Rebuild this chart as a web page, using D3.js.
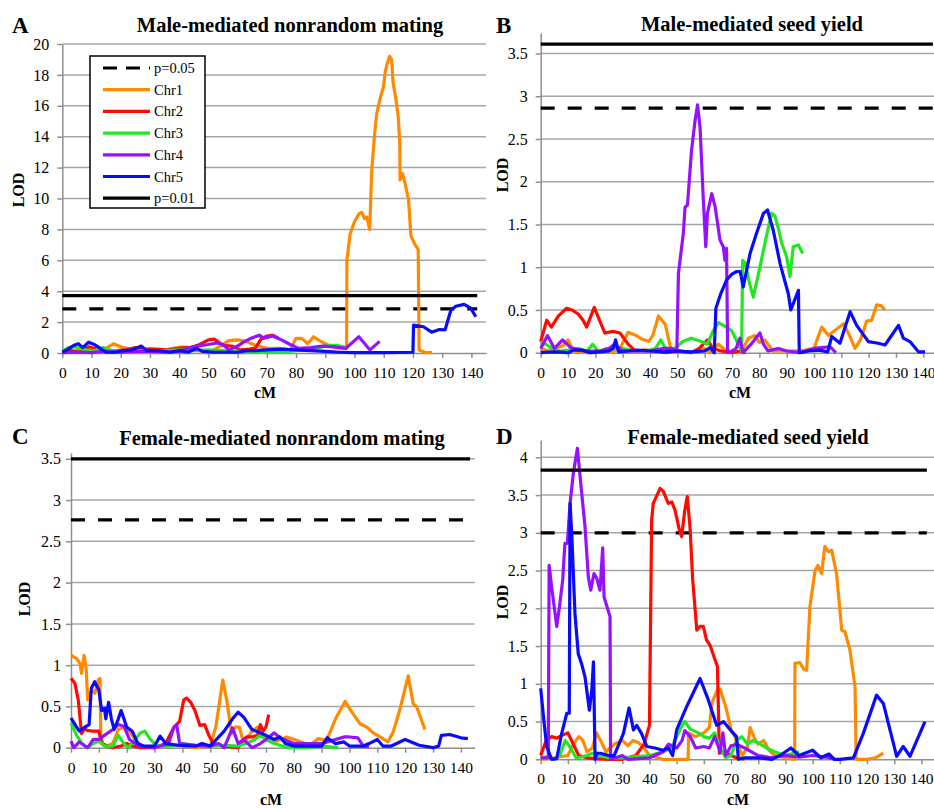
<!DOCTYPE html>
<html>
<head>
<meta charset="utf-8">
<script src="https://cdn.jsdelivr.net/npm/d3@7"></script>
<style>
  body { margin: 0; background: #fff; }
  svg text { font-family: "Liberation Serif", "Times New Roman", serif; fill: #000; }
</style>
</head>
<body>
<svg id="chart" width="934" height="809"></svg>
<script>
// ---- data (cM, LOD) ----
const chrNames = ["Chr1", "Chr2", "Chr3", "Chr4", "Chr5"];
const chrColors = ["#ff8a00", "#ff0a00", "#22e622", "#9412ff", "#0a0aff"];
const panelLetters = ["A", "B", "C", "D"];
const panelTitles = ["Male-mediated nonrandom mating", "Male-mediated seed yield",
  "Female-mediated nonrandom mating", "Female-mediated seed yield"];
const xTicks = [0, 10, 20, 30, 40, 50, 60, 70, 80, 90, 100, 110, 120, 130, 140];
const p05 = [2.85, 2.86, 2.76, 3.0];
const p01 = [3.71, 3.61, 3.5, 3.83];
const thrEnd = [142, 143.5, 143.3, 142];

const aChr1 = [[0,0.05],[3,0.1],[6,0.15],[9,0.3],[12,0.2],[15,0.3],[17.5,0.6],[20,0.4],[23,0.25],[26,0.2],[30,0.3],[34,0.15],[38,0.3],[41,0.4],[45,0.35],[48,0.05],[51,0.1],[54,0.45],[57,0.8],[60,0.85],[63,0.75],[66,0.5],[70,0.3],[74,0.3],[78,0.2],[80,0.95],[82,0.95],[84,0.6],[86,1.05],[88,0.8],[91,0.5],[94,0.35],[97.3,0.3],[97.4,6.0],[98.5,7.7],[100,8.5],[101.5,9.0],[102.5,9.1],[103.4,8.7],[104.2,8.8],[105.2,8.0],[105.9,11.8],[106.8,14.0],[107.6,15.5],[108.8,16.5],[109.9,17.2],[110.5,18.2],[111.3,18.8],[112,19.2],[112.7,19.0],[113.2,17.5],[114.2,16.4],[115,15.2],[115.5,13.5],[115.6,11.2],[116.5,11.6],[117.5,10.8],[118.5,9.9],[119.3,7.6],[120.5,7.1],[121.8,6.7],[122.1,0.2],[124,0.05],[126.5,0.02]];
const aChr2 = [[0,0.05],[3,0.15],[6,0.05],[9,0.4],[11,0.3],[14,0.1],[18,0.15],[22,0.2],[25,0.35],[28,0.2],[32,0.25],[36,0.2],[40,0.3],[44,0.35],[47,0.55],[50,0.85],[52,0.9],[55,0.5],[58,0.45],[61,0.2],[64,0.25],[66,0.3],[68,0.9],[70,1.1],[72,1.15],[74,0.95]];
const aChr3 = [[0,0.1],[2,0.35],[4,0.4],[6,0.3],[8,0.2],[11,0.15],[14,0.35],[16,0.2],[20,0.1],[25,0.15],[30,0.1],[35,0.15],[40,0.2],[45,0.15],[50,0.2],[55,0.15],[60,0.1],[65,0.05],[70,0.05],[75,0.05],[80,0.15],[84,0.2],[88,0.35],[91,0.5],[94,0.5],[97,0.35]];
const aChr4 = [[0,0.02],[5,0.05],[10,0.02],[15,0.1],[20,0.05],[25,0.1],[30,0.1],[35,0.05],[40,0.1],[43,0.3],[46,0.45],[50,0.55],[53,0.65],[55,0.55],[57,0.2],[60,0.45],[62,0.7],[64,0.9],[66,1.05],[67.5,1.15],[69,0.95],[72,1.1],[75,0.85],[78,0.55],[81,0.3],[85,0.35],[89,0.45],[93,0.4],[97,0.3],[101.5,1.05],[105.3,0.2],[108.6,0.75]];
const aChr5 = [[0,0.05],[2,0.25],[4,0.5],[5.5,0.6],[7,0.35],[9,0.7],[11,0.55],[13,0.3],[15,0.05],[18,0.05],[21,0.15],[24,0.2],[27,0.45],[29,0.15],[33,0.15],[37,0.05],[40,0.15],[43,0.05],[46,0.3],[48,0.1],[52,0.05],[60,0.05],[63,0.15],[66,0.15],[70,0.2],[75,0.25],[80,0.2],[85,0.15],[90,0.1],[95,0.05],[100,0.02],[110,0.02],[120,0.05],[120.2,1.8],[123.6,1.7],[126.4,1.35],[129,1.52],[131,1.5],[133,2.78],[134.7,3.03],[137.5,3.15],[139.8,2.9],[141.5,2.35]];

const bChr1 = [[0,0.05],[3,0.02],[5,0.05],[8,0.08],[10,0.15],[12,0.02],[16,0.0],[20,0.0],[24,0.05],[26,0.0],[29,0.05],[32,0.24],[35,0.2],[37,0.16],[39.5,0.13],[41,0.2],[43.1,0.43],[45.6,0.33],[47.5,0.06],[50,0.03],[55,0.0],[60,0.05],[62,0.0],[65,0.1],[68,0.02],[72,0.0],[74,0.05],[76,0.17],[78.4,0.2],[80,0.12],[82,0.15],[85,0.02],[90,0.02],[95,0.02],[100,0.05],[102.8,0.3],[105.3,0.2],[108,0.27],[110.8,0.34],[113,0.2],[115,0.05],[117,0.15],[119.3,0.37],[121.1,0.38],[122.9,0.56],[124.5,0.55],[126,0.5]];
const bChr2 = [[0,0.13],[2.2,0.38],[3.9,0.3],[6.5,0.43],[9.5,0.52],[11.5,0.5],[13.8,0.45],[15.5,0.38],[16.8,0.3],[19.6,0.53],[21.5,0.38],[23.5,0.23],[26.5,0.25],[29,0.23],[32,0.1],[34.5,0.02],[38,0.03],[42,0.02],[46,0.0],[50,0.02],[55,0.0],[58,0.05],[61,0.15],[63,0.05],[66,0.02],[70,0.0],[73,0.02],[75,0.0]];
const bChr3 = [[0,0.12],[2,0.1],[4,0.05],[7,0.02],[10,0.03],[14,0.05],[17,0.02],[19,0.1],[21,0.02],[26,0.05],[30,0.05],[34,0.02],[40,0.03],[42,0.05],[44,0.15],[46,0.03],[49,0.05],[52,0.13],[55,0.17],[58,0.14],[61,0.1],[63,0.25],[65,0.35],[68,0.3],[70,0.25],[72,0.12],[73.5,0.02],[73.9,1.08],[74.8,1.05],[76.5,0.8],[77.8,0.65],[80.2,1.0],[82.5,1.35],[84.5,1.63],[85.7,1.6],[87,1.45],[88.2,1.28],[90,1.12],[91.2,0.89],[92.4,1.24],[94.3,1.26],[95.9,1.16]];
const bChr4 = [[0,0.05],[2.5,0.2],[5,0.05],[8,0.15],[11,0.06],[14,0.03],[18,0.02],[22,0.02],[25,0.05],[27,0.1],[30,0.02],[35,0.02],[40,0.02],[45,0.05],[48,0.05],[49.8,0.02],[50.4,0.93],[52.2,1.4],[52.8,1.7],[53.7,1.73],[55.2,2.37],[56.5,2.72],[57.4,2.9],[58.3,2.64],[59.5,1.79],[60.4,1.24],[61,1.63],[62.6,1.86],[63.8,1.71],[65.6,1.32],[66.8,1.24],[67.4,1.08],[68,1.22],[68.4,0.0],[70,0.02],[71.5,0.05],[72.9,0.17],[74,0.0],[77,0.1],[80.2,0.23],[81.5,0.1],[83.2,0.02],[87,0.05],[90,0.02],[95,0.0],[98,0.03],[100,0.05],[105.8,0.07],[108,0.0]];
const bChr5 = [[0,0.0],[5,0.01],[10,0.0],[12,0.03],[15,0.03],[18,0.0],[22,0.01],[25,0.02],[26.5,0.05],[27.4,0.15],[28.5,0.01],[32,0.02],[35,0.03],[40,0.02],[45,0.01],[50,0.02],[55,0.01],[60,0.02],[62,0.06],[63.5,0.0],[64.1,0.52],[66,0.7],[68,0.85],[70,0.92],[71.7,0.95],[73,0.95],[74.1,0.77],[76.6,1.16],[79,1.4],[81.5,1.63],[83,1.67],[85.1,1.43],[87.6,1.04],[90.6,0.69],[91.5,0.5],[94.3,0.73],[94.6,0.0],[98,0.02],[102,0.03],[105,0.01],[106.5,0.19],[109.5,0.11],[113.2,0.48],[115.6,0.32],[119.9,0.13],[123.5,0.11],[126,0.09],[130.9,0.32],[132.7,0.17],[135.1,0.13],[138.2,0.01],[140.6,0.01]];

const cChr1 = [[0,1.12],[2,1.08],[3.2,1.02],[3.8,0.9],[4.7,1.12],[5.4,0.98],[6,0.58],[7.4,0.7],[8.6,0.66],[9.8,0.82],[10.4,0.84],[10.7,0.17],[11.4,0.05],[13,0.02],[15,0.05],[17,0.22],[19,0.25],[21,0.2],[23,0.1],[25,0.02],[30,0.0],[35,0.05],[40,0.02],[45,0.0],[50,0.02],[52,0.25],[54.5,0.82],[55.9,0.58],[57.7,0.17],[59,0.25],[60.5,0.25],[62,0.05],[65,0.2],[67,0.25],[70,0.1],[74,0.08],[77.4,0.13],[81,0.09],[85.8,0.03],[88.8,0.11],[91.8,0.09],[95,0.35],[98.4,0.56],[100.5,0.45],[103.8,0.29],[106.2,0.25],[108.5,0.18],[111,0.13],[113.8,0.07],[115.7,0.19],[118,0.45],[121.1,0.87],[122.9,0.53],[124.1,0.5],[127.1,0.22]];
const cChr2 = [[0,0.84],[1.4,0.78],[2.6,0.58],[3.8,0.17],[5,0.23],[5.9,0.21],[7.5,0.2],[10,0.2],[11,0.05],[13,0.02],[15,0.0],[18,0.02],[20,0.05],[22,0.02],[25,0.0],[30,0.0],[34,0.05],[37,0.25],[39,0.32],[40.5,0.58],[41.5,0.6],[43,0.55],[44.5,0.45],[46.3,0.27],[48,0.28],[49.5,0.15],[51,0.05],[55,0.02],[60,0.0],[62,0.1],[63,0.13],[65,0.13],[67,0.15],[68,0.28],[69,0.2],[70,0.25],[71,0.4]];
const cChr3 = [[0,0.3],[2,0.15],[4,0.05],[6,0.0],[8,0.05],[10,0.08],[12,0.02],[15,0.02],[17,0.15],[19,0.05],[20.5,0.0],[22.5,0.08],[25,0.18],[26.5,0.2],[28.5,0.1],[30.5,0.03],[33,0.02],[36,0.02],[40,0.05],[45,0.02],[50,0.02],[55,0.03],[60,0.02],[63,0.05],[66,0.1],[68,0.15],[70,0.1],[73,0.05],[78,0.0],[85,0.0],[90,0.02],[96,0.0]];
const cChr4 = [[0,0.08],[1,0.0],[3,0.07],[5,0.02],[6,0.0],[8,0.1],[10,0.1],[12,0.15],[15,0.22],[17,0.28],[19,0.26],[21,0.1],[23,0.05],[25,0.02],[30,0.0],[35,0.05],[37,0.25],[38,0.27],[39,0.05],[45,0.03],[50,0.02],[53,0.05],[55,0.0],[58,0.24],[60,0.05],[62,0.1],[65,0.0],[68,0.05],[70,0.1],[73,0.18],[75,0.12],[80,0.05],[85,0.05],[90,0.05],[95,0.1],[98,0.13],[100,0.13],[103,0.12],[105,0.02],[107,0.01]];
const cChr5 = [[0,0.36],[2,0.25],[3,0.2],[5,0.25],[6.5,0.28],[7.3,0.72],[8.5,0.8],[10,0.7],[11,0.45],[12,0.48],[12.5,0.35],[13.5,0.55],[14.5,0.35],[15.5,0.22],[17,0.35],[18,0.45],[19,0.35],[20,0.25],[22,0.2],[24,0.05],[26,0.02],[30,0.02],[32,0.14],[34,0.05],[38,0.03],[45,0.02],[47,0.05],[50,0.02],[55,0.2],[58,0.35],[60,0.43],[62,0.37],[65,0.22],[70,0.15],[73,0.1],[75,0.13],[77,0.05],[80,0.02],[85,0.02],[90,0.02],[92,0.12],[95,0.05],[98,0.07],[100,0.02],[105,0.02],[107,0.05],[110,0.1],[112,0.02],[115,0.02],[120,0.1],[125,0.03],[130,0.0],[132,0.02],[133,0.15],[136,0.16],[140,0.12],[142.5,0.11]];

const dChr1 = [[0,0.0],[5,0.02],[10,0.05],[12,0.2],[14,0.3],[15.5,0.25],[17,0.1],[19,0.15],[20.5,0.35],[22,0.25],[24,0.1],[27,0.2],[30,0.25],[32,0.18],[34,0.25],[36,0.22],[38,0.15],[40,0.05],[45,0.0],[50,0.0],[54.2,0.0],[54.4,0.35],[57,0.3],[60,0.35],[62,0.42],[63,0.75],[65,0.92],[66,0.93],[68,0.7],[70,0.4],[72,0.25],[74,0.05],[76,0.15],[77,0.42],[79,0.25],[80,0.2],[82,0.25],[84,0.12],[86,0.05],[90,0.02],[93.4,0.0],[93.5,1.27],[95.3,1.28],[96.6,1.2],[97.8,1.18],[99,2.02],[100.9,2.5],[102,2.57],[103.3,2.46],[104.5,2.82],[105.8,2.75],[107,2.77],[108.8,2.46],[110.7,1.71],[111.9,1.69],[113.7,1.45],[115.6,0.96],[116,0.0],[120,0.0],[123,0.02],[126,0.08]];
const dChr2 = [[0,0.05],[2,0.25],[4,0.3],[6,0.28],[8,0.32],[10,0.35],[12,0.2],[14,0.05],[17,0.02],[20,0.01],[25,0.0],[30,0.0],[35,0.05],[38,0.2],[40,0.45],[40.8,3.17],[41.4,3.39],[43.9,3.59],[45.1,3.55],[46.9,3.39],[48.2,3.41],[49.4,3.3],[51,3.04],[51.8,2.95],[53,3.3],[53.9,3.48],[54.9,3.08],[55.9,2.38],[57.4,1.71],[58.6,1.76],[59.8,1.76],[61,1.58],[62.3,1.51],[64.1,1.32],[65,1.23],[65.7,0.08],[68,0.1],[70,0.05],[72,0.02],[75,0.0]];
const dChr3 = [[0,0.02],[2,0.03],[5,0.0],[7,0.05],[9,0.25],[11,0.15],[13,0.02],[15,0.03],[17,0.05],[19,0.08],[21,0.05],[25,0.02],[30,0.02],[40,0.05],[45,0.1],[48,0.15],[50,0.3],[52,0.45],[53,0.5],[55,0.4],[58,0.35],[60,0.3],[62,0.28],[64,0.35],[66,0.15],[68,0.02],[70,0.05],[72,0.25],[74,0.3],[76,0.2],[78,0.25],[80,0.22],[83,0.15],[86,0.1],[90,0.05],[93,0.08],[95,0.1]];
const dChr4 = [[0,0.02],[2.8,0.02],[3.1,2.57],[4,2.29],[5.9,1.76],[6.9,2.02],[8.1,2.38],[8.9,2.86],[9.8,2.86],[10.8,3.39],[12,3.79],[13.5,4.12],[14.5,3.74],[16.3,3.08],[17.5,2.42],[18.4,2.24],[19.6,2.46],[20.6,2.4],[21.8,2.24],[22.8,2.8],[23.3,2.15],[24.9,1.96],[25.5,1.89],[25.7,0.0],[30,0.05],[32,0.0],[40,0.02],[45,0.1],[47,0.2],[50,0.15],[52,0.25],[53,0.38],[55,0.3],[57,0.15],[60,0.17],[62,0.15],[64,0.3],[66,0.1],[67,0.35],[68,0.05],[70,0.18],[72,0.2],[75,0.15],[80,0.05],[85,0.02],[90,0.05],[95,0.03],[100,0.05],[105,0.03],[108,0.0]];
const dChr5 = [[0,0.94],[1,0.57],[2.2,0.17],[4,0.0],[5.9,0.01],[7.7,0.34],[9.6,0.61],[10.5,0.61],[10.8,3.39],[11.4,3.0],[12.6,1.93],[13.8,1.4],[15,1.27],[16.3,1.09],[17.9,0.65],[18.8,0.92],[19.4,1.29],[20,0.0],[20.6,0.08],[22,0.08],[25,0.05],[27,0.05],[30.4,0.34],[32.5,0.68],[34.1,0.39],[35.3,0.45],[37.1,0.34],[39,0.17],[42,0.15],[45,0.12],[47,0.15],[48.5,0.05],[50,0.39],[53.7,0.7],[58.6,1.07],[61.6,0.79],[64.7,0.45],[67.2,0.5],[70.2,0.37],[72,0.3],[72.7,0.0],[75,0.02],[80,0.02],[85,0.0],[88,0.05],[92,0.15],[95,0.05],[100,0.12],[103,0.02],[106,0.07],[108,0.0],[110,0.0],[115,0.02],[118.6,0.34],[123.5,0.85],[126,0.74],[130.9,0.04],[133.3,0.17],[135.8,0.04],[141.3,0.5]];

const seriesByPanel = [
  [aChr1, aChr2, aChr3, aChr4, aChr5],
  [bChr1, bChr2, bChr3, bChr4, bChr5],
  [cChr1, cChr2, cChr3, cChr4, cChr5],
  [dChr1, dChr2, dChr3, dChr4, dChr5]
];

// ---- layout ----
const panels = [
  { left: 62.3, right: 486, top: 44, bottom: 353, yMax: 20, yStep: 2, yTickMax: 20,
    letter: [12, 33], title: [290, 32], lod: [18, 190], cm: [265, 398], yPad: 13, legend: true },
  { left: 540.7, right: 937, top: 33, bottom: 352.7, yMax: 3.74, yStep: 0.5, yTickMax: 3.5,
    letter: [496, 33], title: [752, 31], lod: [502, 175], cm: [740, 398], yPad: 13 },
  { left: 71, right: 474.8, top: 453, bottom: 747.7, yMax: 3.57, yStep: 0.5, yTickMax: 3.5,
    letter: [12, 444], title: [282, 445], lod: [24, 599], cm: [271, 805], yPad: 10 },
  { left: 540.7, right: 935, top: 440, bottom: 759.3, yMax: 4.23, yStep: 0.5, yTickMax: 4,
    letter: [496, 444], title: [748, 444], lod: [502, 602], cm: [738, 805], yPad: 13 }
];

const gridColor = "#a6a6a6";
const axisColor = "#8f8f8f";
const svg = d3.select("#chart");

function styleAxis(sel, size) {
  sel.attr("font-family", null).attr("font-size", null);
  sel.select(".domain").attr("stroke", axisColor).attr("stroke-width", 1.5);
  sel.selectAll(".tick line").attr("stroke", axisColor).attr("stroke-width", 1.5);
  sel.selectAll(".tick text").style("font-size", size + "px");
}

function drawPanel(p, i) {
  const g = svg.append("g").attr("class", "panel-" + panelLetters[i]);
  const x = d3.scaleLinear().domain([0, 145]).range([p.left, p.right]);
  const y = d3.scaleLinear().domain([0, p.yMax]).range([p.bottom, p.top]);
  const yTicks = d3.range(0, p.yTickMax + p.yStep / 2, p.yStep);

  g.append("g").selectAll("line")
    .data(yTicks.filter(d => d > 0))
    .join("line")
    .attr("x1", x(0)).attr("x2", x(145))
    .attr("y1", d => y(d)).attr("y2", d => y(d))
    .attr("stroke", gridColor).attr("stroke-width", 1.5);

  g.append("g")
    .attr("transform", `translate(0,${y(0)})`)
    .call(d3.axisBottom(x).tickValues(xTicks).tickSize(5).tickSizeOuter(0).tickPadding(9).tickFormat(d3.format("d")))
    .call(styleAxis, 15.5);

  g.append("g")
    .attr("transform", `translate(${x(0)},0)`)
    .call(d3.axisLeft(y).tickValues(yTicks).tickSize(5).tickSizeOuter(0).tickPadding(p.yPad - 5).tickFormat(d3.format("~g")))
    .call(styleAxis, 16);

  const line = d3.line().x(d => x(d[0])).y(d => y(d[1]));

  // p=0.05 threshold
  g.append("path")
    .attr("d", line([[0, p05[i]], [thrEnd[i], p05[i]]]))
    .attr("stroke", "#000").attr("stroke-width", 3.2)
    .attr("stroke-dasharray", "14,13").attr("fill", "none");

  seriesByPanel[i].forEach((s, k) => {
    g.append("path")
      .attr("d", line(s))
      .attr("fill", "none")
      .attr("stroke", chrColors[k])
      .attr("stroke-width", 3.2)
      .attr("stroke-linejoin", "round");
  });

  // p=0.01 threshold
  g.append("path")
    .attr("d", line([[0, p01[i]], [thrEnd[i], p01[i]]]))
    .attr("stroke", "#000").attr("stroke-width", 3.2).attr("fill", "none");

  g.append("text").attr("x", p.letter[0]).attr("y", p.letter[1])
    .attr("font-size", 23).attr("font-weight", "bold").text(panelLetters[i]);
  g.append("text").attr("x", p.title[0]).attr("y", p.title[1])
    .attr("text-anchor", "middle").attr("font-size", 20.5).attr("font-weight", "bold")
    .text(panelTitles[i]);
  g.append("text")
    .attr("transform", `translate(${p.lod[0]},${p.lod[1]}) rotate(-90)`)
    .attr("text-anchor", "middle").attr("dy", "0.35em")
    .attr("font-size", 16).attr("font-weight", "bold").text("LOD");
  g.append("text").attr("x", p.cm[0]).attr("y", p.cm[1])
    .attr("text-anchor", "middle").attr("font-size", 16).attr("font-weight", "bold").text("cM");

  if (p.legend) drawLegend(g);
}

function drawLegend(g) {
  const items = [
    { label: "p=0.05", color: "#000", dash: "14,9" },
    ...chrNames.map((n, k) => ({ label: n, color: chrColors[k], dash: null })),
    { label: "p=0.01", color: "#000", dash: null }
  ];
  const lg = g.append("g");
  lg.append("rect").attr("x", 90).attr("y", 56).attr("width", 115).attr("height", 152)
    .attr("fill", "#fff").attr("stroke", "#000").attr("stroke-width", 1.5);
  const row = lg.selectAll("g.item").data(items).join("g")
    .attr("class", "item")
    .attr("transform", (d, k) => `translate(0,${68 + k * 21.7})`);
  row.append("line").attr("x1", 103).attr("x2", 150)
    .attr("stroke", d => d.color).attr("stroke-width", 3.2)
    .attr("stroke-dasharray", d => d.dash);
  row.append("text").attr("x", 154).attr("dy", "0.35em")
    .attr("font-size", 14.5).text(d => d.label);
}

panels.forEach(drawPanel);
</script>
</body>
</html>
